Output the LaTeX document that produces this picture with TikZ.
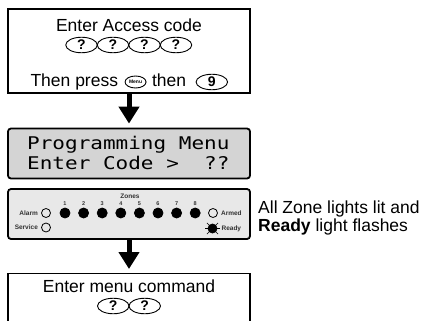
\documentclass[tikz,border=0pt]{standalone}
\usepackage{fontspec}
\setmainfont{Liberation Sans}
\newfontfamily\lcdfont{DejaVu Sans Mono}
\usetikzlibrary{positioning,shapes.geometric,arrows.meta}

\begin{document}
\begin{tikzpicture}[x=1pt,y=-1pt,
    every node/.style={font=\fontsize{17.5}{17.5}\selectfont},
    box/.style={draw, line width=1.2pt, minimum width=242pt, inner sep=0pt},
    panelbox/.style={box, rounded corners=3pt, line width=1.8pt},
    txt/.style={text height=12.5pt, text depth=3.6pt},
    key/.style={ellipse, draw, line width=0.9pt, inner sep=0pt, minimum width=31.5pt, minimum height=15.5pt,
        font=\bfseries\fontsize{14}{14}\selectfont},
    flow/.style={line width=5pt, -{Triangle[length=17pt,width=20pt]}, shorten >=4pt},
    tiny/.style={font=\bfseries\fontsize{6.5}{6.5}\selectfont, text=black!80, inner sep=1pt},
    lcdtext/.style={anchor=base west, inner sep=0pt, font=\lcdfont\fontsize{17.5}{17.5}\selectfont},
    lamp/.style={circle, draw, line width=0.8pt, inner sep=0pt, minimum size=9pt},
    lit/.style={lamp, fill=black, minimum size=10pt}]

    \useasboundingbox (0,0) rectangle (423,321);

    % Boxes
    \node[box, minimum height=84pt] (access) at (129,51) {};
    \node[panelbox, fill=black!17, minimum height=50pt] (lcd) at (129,153.5) {};
    \node[panelbox, fill=black!9, minimum height=50pt] (panel) at (129,214) {};
    \node[box, minimum height=60pt, anchor=north] (command) at (129,273) {};

    \draw[flow] (access.south) -- (lcd.north);
    \draw[flow] (panel.south) -- (command.north);

    % Access code
    \node (enter) at (129,25) {Enter Access code};
    \foreach \k in {0,...,3}
        \node[key] (code\k) at (81.5+\k*31.5,45) {?};
    \node[txt, anchor=west] (press) at (27,82) {Then press};
    \node[key, minimum width=21pt, minimum height=12pt, font=\bfseries\fontsize{5}{5}\selectfont,
        right=3pt of press] (menu) {Menu};
    \node[txt, right=2pt of menu] (then) {then};
    \node[key, right=6pt of then] (nine) {9};

    % Display
    \node[lcdtext] (lcdtop) at (27,149) {\scalebox{1.2}[1]{Programming Menu}};
    \node[lcdtext] (lcdbot) at (27,169) {\scalebox{1.2}[1]{Enter Code >\ \ ??}};

    % Keypad lights
    \node[tiny] (zones) at (130,196) {Zones};
    \foreach \z in {1,...,8} {
        \node[lit] (zone\z) at (46.4+\z*18.6,213) {};
        \node[tiny, font=\bfseries\fontsize{5.5}{5.5}\selectfont, above=1pt of zone\z] (num\z) {\z};
    }
    \node[lamp] (alarm) at (46,213) {};
    \node[tiny, left=2pt of alarm] (alarmtxt) {Alarm};
    \node[lamp] (service) at (46,227.5) {};
    \node[tiny, left=2pt of service] (servicetxt) {Service};
    \node[lamp] (armed) at (213,213) {};
    \node[tiny, right=2pt of armed] (armedtxt) {Armed};
    \node[lit, minimum size=9pt] (ready) at (212.5,228.5) {};
    \foreach \a in {0,45,135,180,225,315}
        \draw[line width=0.6pt] (ready.\a) -- ++(\a:3pt);
    \node[tiny, right=3pt of ready] (readytxt) {Ready};

    \node[anchor=base west, inner sep=0pt] (note1) at (258,213) {All Zone lights lit and};
    \node[anchor=base west, inner sep=0pt] (note2) at (258,231) {\textbf{Ready} light flashes};

    % Menu command
    \node (menucmd) at (129,286) {Enter menu command};
    \node[key] (cmd1) at (113.25,306) {?};
    \node[key] (cmd2) at (144.75,306) {?};

\end{tikzpicture}
\end{document}
